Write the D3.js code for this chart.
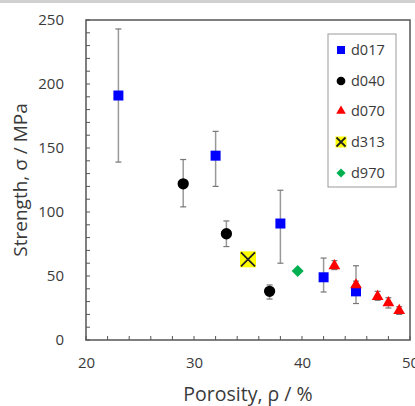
<!DOCTYPE html>
<html><head><meta charset="utf-8">
<script src="https://cdn.jsdelivr.net/npm/d3@7"></script>
<style>body{margin:0;background:#fff;} svg{display:block;} text{font-family:"Open Sans",sans-serif;fill:#3a3a3a;}</style>
</head><body>
<svg id="c" width="415" height="406"></svg>
<script>
// Data
const d017 = [
  {x:23, y:191, lo:139, hi:243},
  {x:32, y:144, lo:120, hi:163},
  {x:38, y:91, lo:60, hi:117},
  {x:42, y:49, lo:37.5, hi:64},
  {x:45, y:38, lo:28.5, hi:58}
];
const d040 = [
  {x:29, y:122, lo:104, hi:141},
  {x:33, y:83, lo:73, hi:93},
  {x:37, y:38, lo:32, hi:43}
];
const d070 = [
  {x:43, y:58, lo:55, hi:62},
  {x:45, y:43, lo:40, hi:46},
  {x:47, y:34, lo:31, hi:38},
  {x:48, y:29, lo:25, hi:33},
  {x:49, y:23, lo:20, hi:26}
];
const d313 = [{x:35, y:63}];
const d970 = [{x:39.6, y:54}];
const xTicks = [20,30,40,50];
const yTicks = [0,50,100,150,200,250];
const legendLabels = ["d017","d040","d070","d313","d970"];

const svg = d3.select("#c");
svg.append("rect").attr("x",0).attr("y",0).attr("width",415).attr("height",3).attr("fill","#d0d0d0");

const L=86, R=410, T=20, B=340;
const x = d3.scaleLinear().domain([20,50]).range([L,R]);
const y = d3.scaleLinear().domain([0,250]).range([B,T]);
const axisColor = "#555";

// minor ticks inward
const g = svg.append("g");
d3.range(20,50.01,2).forEach(v=>{
  g.append("line").attr("x1",x(v)).attr("x2",x(v)).attr("y1",B).attr("y2",B-4).attr("stroke",axisColor).attr("stroke-width",1);
});
d3.range(0,250.01,10).forEach(v=>{
  g.append("line").attr("x1",L).attr("x2",L+4).attr("y1",y(v)).attr("y2",y(v)).attr("stroke",axisColor).attr("stroke-width",1);
});
// frame
svg.append("rect").attr("x",L).attr("y",T).attr("width",R-L).attr("height",B-T).attr("fill","none").attr("stroke",axisColor).attr("stroke-width",1.5);

// tick labels via axes
const xa = svg.append("g").attr("transform",`translate(0,${B})`)
  .call(d3.axisBottom(x).tickValues(xTicks).tickSize(0).tickPadding(17));
xa.select(".domain").remove();
xa.selectAll("text").style("font-size","15px").attr("fill","#3a3a3a").style("font-family","Open Sans");
const ya = svg.append("g").attr("transform",`translate(${L},0)`)
  .call(d3.axisLeft(y).tickValues(yTicks).tickSize(0).tickPadding(22));
ya.select(".domain").remove();
ya.selectAll("text").style("font-size","15px").attr("fill","#3a3a3a").style("font-family","Open Sans");

// titles
svg.append("text").attr("x",(L+R)/2).attr("y",401).attr("text-anchor","middle").style("font-size","19.5px").text("Porosity, ρ / %");
svg.append("text").attr("transform",`translate(27,${(T+B)/2}) rotate(-90)`).attr("text-anchor","middle").style("font-size","19px").text("Strength, σ / MPa");

// error bars
const errColor = "#999";
function errbars(data){
  data.forEach(d=>{
    svg.append("line").attr("x1",x(d.x)).attr("x2",x(d.x)).attr("y1",y(d.lo)).attr("y2",y(d.hi)).attr("stroke",errColor).attr("stroke-width",1.5);
    [d.lo,d.hi].forEach(v=>svg.append("line").attr("x1",x(d.x)-3).attr("x2",x(d.x)+3).attr("y1",y(v)).attr("y2",y(v)).attr("stroke","#777").attr("stroke-width",1.2));
  });
}
errbars(d017); errbars(d040); errbars(d070);

const sq = d3.symbol().type(d3.symbolSquare).size(100);
const ci = d3.symbol().type(d3.symbolCircle).size(100);
const tr = d3.symbol().type(d3.symbolTriangle).size(60);
const dm = d3.symbol().type(d3.symbolSquare).size(72);

function drawX(cx,cy,s){
  const gg = svg.append("g").attr("transform",`translate(${cx},${cy})`);
  gg.append("rect").attr("x",-s/2).attr("y",-s/2).attr("width",s).attr("height",s).attr("fill","#ffff00");
  gg.append("path").attr("d",`M${-s/2+1},${-s/2+1}L${s/2-1},${s/2-1}M${s/2-1},${-s/2+1}L${-s/2+1},${s/2-1}`).attr("stroke","#222").attr("stroke-width",1.8);
}

svg.selectAll(".p017").data(d017).enter().append("path").attr("d",sq).attr("fill","#0000ff").attr("transform",d=>`translate(${x(d.x)},${y(d.y)})`);
svg.selectAll(".p040").data(d040).enter().append("path").attr("d",ci).attr("fill","#000").attr("transform",d=>`translate(${x(d.x)},${y(d.y)})`);
svg.selectAll(".p070").data(d070).enter().append("path").attr("d",tr).attr("fill","#ff0000").attr("transform",d=>`translate(${x(d.x)},${y(d.y)})`);
d313.forEach(d=>drawX(x(d.x),y(d.y),16));
svg.selectAll(".p970").data(d970).enter().append("path").attr("d",dm).attr("fill","#00b050").attr("transform",d=>`translate(${x(d.x)},${y(d.y)}) rotate(45)`);

// legend
svg.append("rect").attr("x",328).attr("y",34).attr("width",68).attr("height",153).attr("fill","#fff").attr("stroke","#999").attr("stroke-width",1);
const ly = [50,81,111,142,173];
const lsym = [
  s=>s.append("path").attr("d",d3.symbol().type(d3.symbolSquare).size(64)).attr("fill","#0000ff"),
  s=>s.append("path").attr("d",d3.symbol().type(d3.symbolCircle).size(60)).attr("fill","#000"),
  s=>s.append("path").attr("d",d3.symbol().type(d3.symbolTriangle).size(40)).attr("fill","#ff0000"),
  null,
  s=>s.append("path").attr("d",d3.symbol().type(d3.symbolSquare).size(42)).attr("fill","#00b050").attr("transform","rotate(45)")
];
legendLabels.forEach((lab,i)=>{
  if(lsym[i]) lsym[i](svg.append("g").attr("transform",`translate(341,${ly[i]})`));
  else drawX(341,ly[i],11);
  svg.append("text").attr("x",351).attr("y",ly[i]+5).style("font-size","14.5px").text(lab);
});
</script>
</body></html>
